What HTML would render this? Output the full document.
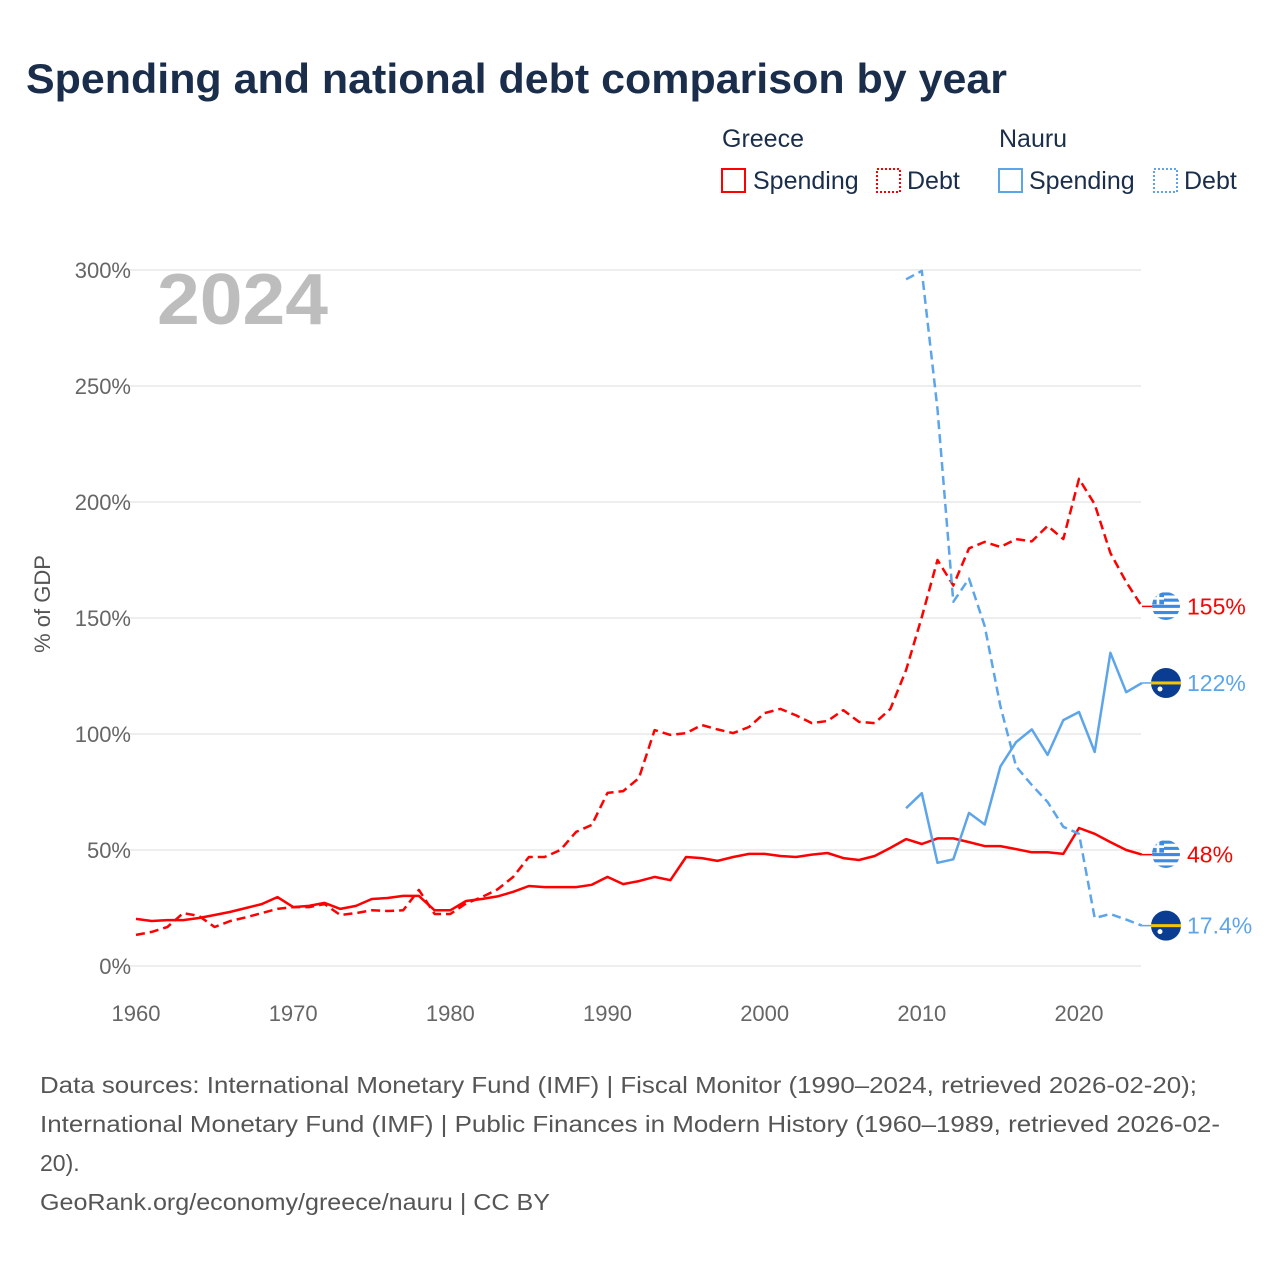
<!DOCTYPE html>
<html><head><meta charset="utf-8"><style>
body{margin:0;background:#fff;font-family:"Liberation Sans",sans-serif;}
#wrap{position:relative;width:1280px;height:1280px;overflow:hidden;}
svg text{font-family:"Liberation Sans",sans-serif;}
</style></head><body>
<div id="wrap">
<svg id="chart" width="1280" height="1280">
<defs>
<clipPath id="fc1"><circle cx="1166" cy="606" r="14"/></clipPath>
<clipPath id="fc2"><circle cx="1166" cy="854" r="14"/></clipPath>
</defs>
<text x="26" y="93" font-size="42" font-weight="bold" fill="#1a2e4c" textLength="981" lengthAdjust="spacingAndGlyphs">Spending and national debt comparison by year</text>
<g font-size="25" fill="#1a2e4c">
<text x="722" y="147">Greece</text>
<text x="999" y="147">Nauru</text>
<g><rect x="722" y="169" width="23" height="23" fill="none" stroke="#ff0000" stroke-width="2"/><text x="753" y="189">Spending</text></g>
<g><rect x="877" y="169" width="23" height="23" fill="none" stroke="#ff0000" stroke-width="2" stroke-dasharray="2,2"/><text x="907" y="189">Debt</text></g>
<g><rect x="999" y="169" width="23" height="23" fill="none" stroke="#5da5ea" stroke-width="2"/><text x="1029" y="189">Spending</text></g>
<g><rect x="1154" y="169" width="23" height="23" fill="none" stroke="#5da5ea" stroke-width="2" stroke-dasharray="2,2"/><text x="1184" y="189">Debt</text></g>
</g>
<text x="157" y="324" font-size="72" font-weight="bold" fill="#bdbdbd" textLength="171" lengthAdjust="spacingAndGlyphs">2024</text>
<text transform="translate(50,604) rotate(-90)" text-anchor="middle" font-size="22" fill="#555">% of GDP</text>
<g id="grid"></g><g id="marks"></g>
<g font-size="23" fill="#555">
<text x="40" y="1093" textLength="1157" lengthAdjust="spacingAndGlyphs">Data sources: International Monetary Fund (IMF) | Fiscal Monitor (1990–2024, retrieved 2026-02-20);</text>
<text x="40" y="1132" textLength="1180" lengthAdjust="spacingAndGlyphs">International Monetary Fund (IMF) | Public Finances in Modern History (1960–1989, retrieved 2026-02-</text>
<text x="40" y="1171">20).</text>
<text x="40" y="1210" textLength="510" lengthAdjust="spacingAndGlyphs">GeoRank.org/economy/greece/nauru | CC BY</text>
</g>
</svg></div>
<script>
const yTicks=[0,50,100,150,200,250,300];
const xTicks=[1960,1970,1980,1990,2000,2010,2020];
const greeceYears=[];for(let y=1960;y<=2024;y++)greeceYears.push(y);
const nauruYears=[];for(let y=2009;y<=2024;y++)nauruYears.push(y);
const greeceSpending=[20.3,19.4,19.8,19.8,20.7,22,23.3,25,26.7,29.7,25.4,25.9,27.2,24.6,25.9,28.9,29.3,30.2,30.2,24,24,28,28.9,30,32,34.5,34,34,34,35,38.4,35.3,36.6,38.4,37,47,46.5,45.3,47,48.3,48.3,47.4,47,48,48.7,46.5,45.7,47.4,50.9,54.7,52.6,55,55,53.4,51.7,51.7,50.4,49,49,48.3,59.5,57,53.4,50,48];
const greeceDebt=[13.4,14.7,16.8,22.8,21.6,16.8,19.4,21,22.8,24.6,25.4,25.4,26.7,22,22.8,24,23.7,24,32.8,22.4,22.4,27,29.7,33,38.4,47,47,50,57.8,60.8,74.6,75.4,81,101.7,99.6,100.4,103.9,102,100.4,103,109,110.8,108,104.7,105.6,110.3,105.2,104.7,110.8,127.6,150.4,175,164,180,182.8,180.6,184,183,189.7,184,210,199,178,165.5,155];
const nauruSpending=[68,74.5,44.5,46,66,61,86,96.5,102,91,106,109.5,92.3,135,118,122];
const nauruDebt=[296,299.6,240,157,167,146.5,112,86,78,70.7,60,57,20.7,22.4,20,17.4];
const endLabels=["155%","122%","48%","17.4%"];
const NS="http://www.w3.org/2000/svg";
const X=y=>136+(y-1960)*(1079-136)/60;
const Y=v=>966-v*(966-270)/300;
function el(t,a,p){const e=document.createElementNS(NS,t);for(const k in a)e.setAttribute(k,a[k]);p.appendChild(e);return e;}
const grid=document.getElementById('grid'),marks=document.getElementById('marks');
yTicks.forEach(v=>{
 const l=el('line',{x1:130,x2:1141,y1:Y(v),y2:Y(v),stroke:'#e8e8e8','stroke-width':1.5},grid);
 
 
 const t=el('text',{x:131,y:Y(v)+8,'text-anchor':'end','font-size':22,fill:'#666'},grid);t.textContent=v+'%';
 
 
});
xTicks.forEach(v=>{
 const t=el('text',{x:X(v),y:1021,'text-anchor':'middle','font-size':22,fill:'#666'},grid);t.textContent=v;
 
 
});
function line(years,vals,color,dash,name){
 const d=vals.map((v,i)=>(i?'L':'M')+X(years[i]).toFixed(1)+','+Y(v).toFixed(1)).join('');
 const p=el('path',{d:d,fill:'none',stroke:color,'stroke-width':2.5,'stroke-linejoin':'round'},marks);
 if(dash)p.setAttribute('stroke-dasharray','9,5');
 
 
}
line(greeceYears,greeceDebt,'#ff0000',true,'greece-debt-line');
line(greeceYears,greeceSpending,'#ff0000',false,'greece-spending-line');
line(nauruYears,nauruDebt,'#5da5ea',true,'nauru-debt-line');
line(nauruYears,nauruSpending,'#5da5ea',false,'nauru-spending-line');
const ends=[[greeceDebt,'#ff0000','gr'],[nauruSpending,'#5da5ea','nr'],[greeceSpending,'#ff0000','gr'],[nauruDebt,'#5da5ea','nr']];
let gi=0;
ends.forEach((e,i)=>{
 const v=e[0][e[0].length-1],cy=Y(v),cx=1166;
 const c=el('line',{x1:1142,x2:1152,y1:cy,y2:cy,stroke:e[1],'stroke-width':1.5},marks);
 
 
 const g=el('g',{},marks);
 
 
 if(e[2]=='gr'){
  gi++;
  const f=el('g',{'clip-path':'url(#fc'+gi+')'},g);
  el('circle',{cx:cx,cy:cy,r:14,fill:'#fff'},f);
  for(let k=0;k<5;k++)el('rect',{x:cx-14,y:cy-14+k*6.2,width:28,height:3.1,fill:'#3d8be0'},f);
  el('rect',{x:cx-14,y:cy-14,width:12,height:12,fill:'#3d8be0'},f);
  el('rect',{x:cx-9.3,y:cy-14,width:2.6,height:12,fill:'#fff'},f);
  el('rect',{x:cx-14,y:cy-9.3,width:12,height:2.6,fill:'#fff'},f);
 }else{
  el('circle',{cx:cx,cy:cy,r:15,fill:'#0a3d91'},g);
  el('rect',{x:cx-15,y:cy-1.5,width:30,height:3,fill:'#f5c400'},g);
  el('circle',{cx:cx-6,cy:cy+6,r:2.5,fill:'#fff'},g);
 }
 const t=el('text',{x:1187,y:cy+8,'font-size':23,fill:e[1]},marks);t.textContent=endLabels[i];
 
 
});
</script>
</body></html>
